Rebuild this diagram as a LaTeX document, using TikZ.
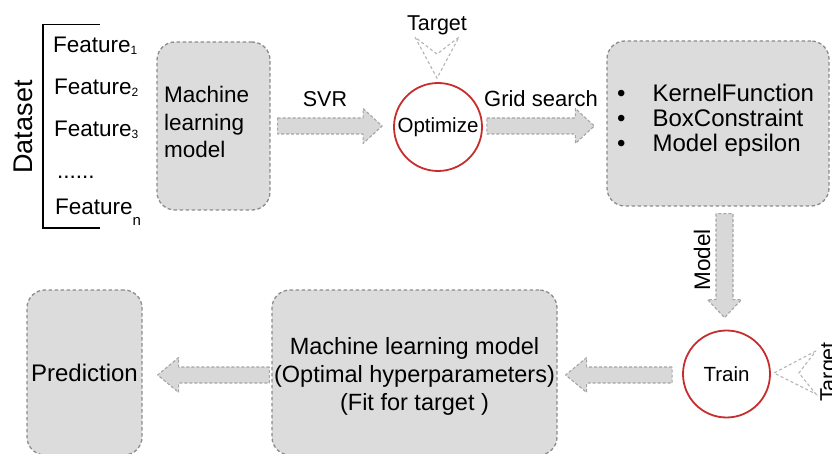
\documentclass[tikz,border=0pt]{standalone}
\usepackage{fontspec}
\setmainfont{Liberation Sans}
\usetikzlibrary{calc}
\definecolor{boxfill}{RGB}{220,220,220}
\definecolor{boxline}{RGB}{140,140,140}
\definecolor{arrfill}{RGB}{216,216,216}
\definecolor{arrline}{RGB}{165,165,165}
\definecolor{chev}{RGB}{180,180,180}
\definecolor{circred}{RGB}{200,45,45}
\tikzset{
 box/.style={draw=boxline, fill=boxfill, dash pattern=on 3.5pt off 2.5pt, line width=1.3pt, rounded corners=18pt, inner sep=0pt},
 fatarrow/.style={draw=arrline, fill=arrfill, dash pattern=on 3pt off 2pt, line width=1.1pt, line join=round},
 chevron/.style={draw=chev, dash pattern=on 3pt off 2.5pt, line width=1.1pt},
 ring/.style={circle, draw=circred, line width=1.8pt, inner sep=0pt},
 lbl/.style={inner sep=0pt, font=\fontsize{21.5}{26}\selectfont},
 feat/.style={inner sep=0pt, anchor=base west, font=\fontsize{22.5}{26}\selectfont},
}
\newcommand\fatright[2]{\draw[fatarrow] ($(#1)+(0,-8)$) -- ($(#2)+(-19,-8)$) -- ($(#2)+(-19,-17.5)$) -- (#2) -- ($(#2)+(-19,17.5)$) -- ($(#2)+(-19,8)$) -- ($(#1)+(0,8)$) -- cycle;}
\newcommand\fatleft[2]{\draw[fatarrow] ($(#1)+(0,-8)$) -- ($(#2)+(21,-8)$) -- ($(#2)+(21,-17.5)$) -- (#2) -- ($(#2)+(21,17.5)$) -- ($(#2)+(21,8)$) -- ($(#1)+(0,8)$) -- cycle;}
\newcommand\fatdown[2]{\draw[fatarrow] ($(#1)+(-8.5,0)$) -- ($(#2)+(-8.5,-18)$) -- ($(#2)+(-17,-18)$) -- (#2) -- ($(#2)+(17,-18)$) -- ($(#2)+(8.5,-18)$) -- ($(#1)+(8.5,0)$) -- cycle;}
\newcommand\subsm[1]{\raisebox{-2pt}{\fontsize{12}{12}\selectfont #1}}
\begin{document}
\begin{tikzpicture}[x=1pt,y=-1pt]
\useasboundingbox (0,0) rectangle (832,454);
% dataset bracket and features
\node[inner sep=0pt, rotate=90, font=\fontsize{27}{30}\selectfont] (ds) at (23,127) {Dataset};
\draw[line width=1.4pt] (100,24.5) -- (43,24.5) -- (43,228) -- (100,228);
\node[feat] (f1) at (53,53) {Feature\subsm{1}};
\node[feat] (f2) at (54,95) {Feature\subsm{2}};
\node[feat] (f3) at (54,137) {Feature\subsm{3}};
\node[feat] (fd) at (57,179) {......};
\node[feat] (fn) at (55,215) {Feature\raisebox{-10pt}{\fontsize{15}{15}\selectfont n}};
% top row
\node[box, minimum width=113pt, minimum height=168pt] (ml1) at (213.5,126) {};
\node[lbl, anchor=west, align=left, font=\fontsize{22.5}{27.5}\selectfont] (ml1t) at (164,122) {Machine\\learning\\model};
\node[ring, minimum size=88pt, font=\fontsize{20.5}{24}\selectfont] (opt) at (438,127) {Optimize};
\node[box, minimum width=222pt, minimum height=165pt] (rbox) at (718,123.5) {};
\node[inner sep=0pt, anchor=west, font=\fontsize{24}{25}\selectfont] (params) at (617,122)
 {\begin{tabular}{@{}l@{\hspace{27pt}}l@{}}•&KernelFunction\\•&BoxConstraint\\•&Model epsilon\end{tabular}};
\node[lbl, anchor=base] (svr) at (325,107) {SVR};
\node[lbl, anchor=base, font=\fontsize{22}{26}\selectfont] (grid) at (541,107) {Grid search};
\node[lbl, anchor=base] (tgt1) at (437,31) {Target};
% top row arrows
\coordinate (a1s) at ($(ml1.east)+(7,0)$);
\coordinate (a1e) at ($(opt.west)+(-11,-1)$);
\fatright{a1s}{a1e}
\coordinate (a2s) at ($(opt.east)+(4,-1)$);
\coordinate (a2e) at ($(rbox.west|-opt.east)+(-12,-1)$);
\fatright{a2s}{a2e}
% top chevron
\coordinate (c1a) at ($(opt.north)+(-1,-4)$);
\coordinate (c1l) at ($(opt.north)+(-23,-45)$);
\coordinate (c1r) at ($(opt.north)+(21,-45)$);
\coordinate (c1i) at ($(opt.north)+(-1,-28)$);
\draw[chevron] (c1l) -- (c1a) -- (c1r) -- (c1i) -- cycle;
% right column
\node[ring, minimum size=87pt, font=\fontsize{20.5}{24}\selectfont] (train) at (726.5,374) {Train};
\coordinate (a3s) at ($(train.north|-rbox.south)+(-2,7)$);
\coordinate (a3e) at ($(train.north)+(-2,-12)$);
\fatdown{a3s}{a3e}
\node[lbl, rotate=90, font=\fontsize{22.5}{26}\selectfont] (mdl) at (702,260) {Model};
\coordinate (c2a) at ($(train.east)+(3,-1)$);
\coordinate (c2t) at ($(train.east)+(45,-23)$);
\coordinate (c2b) at ($(train.east)+(45,20)$);
\coordinate (c2i) at ($(train.east)+(28,-1)$);
\draw[chevron] (c2t) -- (c2a) -- (c2b) -- (c2i) -- cycle;
\node[lbl, rotate=90, anchor=north] (tgt2) at (820,372) {Target};
% bottom row
\node[box, minimum width=285pt, minimum height=165pt] (ml2) at (414.5,372.5) {};
\node[lbl, align=center, font=\fontsize{23.5}{28}\selectfont] (ml2t) at (414.5,376) {Machine learning model\\(Optimal hyperparameters)\\(Fit for target )};
\node[box, minimum width=115pt, minimum height=165pt, font=\fontsize{24}{26}\selectfont] (pred) at (84.5,372.5) {Prediction};
\coordinate (a4s) at ($(train.west)+(-10,1)$);
\coordinate (a4e) at ($(ml2.east|-train.west)+(8,1)$);
\fatleft{a4s}{a4e}
\coordinate (a5s) at ($(ml2.west|-train.west)+(-2,1)$);
\coordinate (a5e) at ($(pred.east|-train.west)+(15,1)$);
\fatleft{a5s}{a5e}
\end{tikzpicture}
\end{document}
